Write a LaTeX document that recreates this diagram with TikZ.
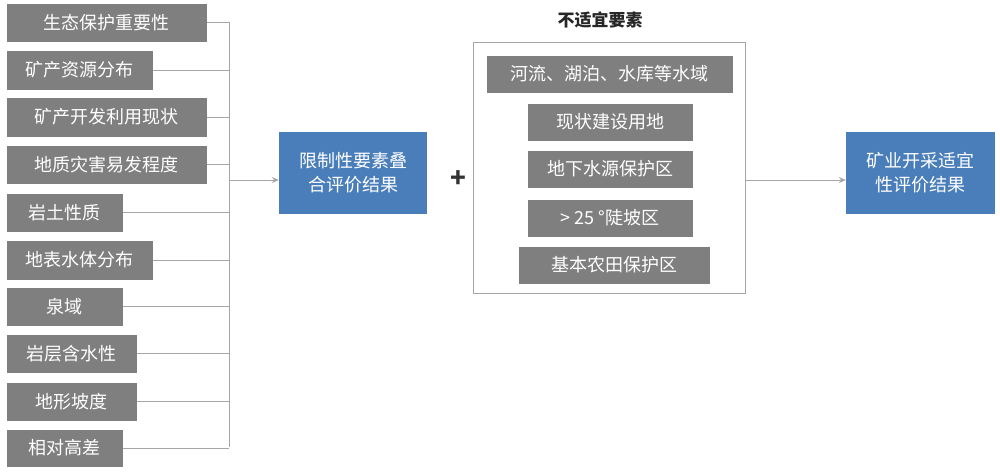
\documentclass[tikz,border=0pt]{standalone}
\usepackage{fontspec}
\setmainfont{Noto Sans CJK SC}
\usetikzlibrary{arrows.meta}
\definecolor{gbox}{HTML}{7F7F7F}
\definecolor{bbox}{HTML}{4A7EBB}
\definecolor{lcol}{HTML}{A6A6A6}
\begin{document}
\begin{tikzpicture}[x=1pt,y=-1pt,
  gb/.style={draw=white,line width=0.8pt,fill=gbox,text=white,font=\fontsize{18}{20}\selectfont,inner sep=0pt},
  bb/.style={fill=bbox,text=white,font=\fontsize{18}{24}\selectfont,align=center,inner sep=0pt},
  ln/.style={draw=lcol,line width=0.8pt},
  ar/.style={ln,-{Stealth[length=7pt,width=6pt]}}]
\useasboundingbox (0,0) rectangle (1000,475);
\newcommand{\gboxat}[6]{\node[gb,minimum width=#3-#2,minimum height=#5-#4] (#1) at ({(#2+#3)/2},{(#4+#5)/2}) {#6};}
\gboxat{l1}{6}{207}{3}{42}{生态保护重要性}
\gboxat{l2}{6}{153}{50}{90}{矿产资源分布}
\gboxat{l3}{6}{207}{97}{137}{矿产开发利用现状}
\gboxat{l4}{6}{207}{145}{184}{地质灾害易发程度}
\gboxat{l5}{6}{123}{193}{232}{岩土性质}
\gboxat{l6}{6}{153}{240}{280}{地表水体分布}
\gboxat{l7}{6}{123}{287}{326}{泉域}
\gboxat{l8}{6}{137}{334}{373}{岩层含水性}
\gboxat{l9}{6}{137}{382}{421}{地形坡度}
\gboxat{l10}{6}{123}{429}{467}{相对高差}
\coordinate (top) at (229,22);
\coordinate (bot) at (229,447);
\coordinate (mid) at (229,180);
\draw[ln] (top) -- (bot);
\foreach \i in {1,...,10} {\draw[ln] (l\i.east) -- (l\i.east -| top);}
\node[bb,minimum width=148,minimum height=82] (lim) at (353,173) {限制性要素叠\\合评价结果};
\draw[ar] (mid) -- (lim.west |- mid);
\node[font=\bfseries\fontsize{26}{26}\selectfont,text=black!80] (plus) at (458,179) {+};
\node[draw=lcol,line width=0.6pt,minimum width=272,minimum height=251,inner sep=0] (grp) at (609,167.5) {};
\node[font=\bfseries\fontsize{17}{20}\selectfont,text=black!85] (ttl) at (600,20) {不适宜要素};
\gboxat{r1}{486}{733}{55}{93}{河流、湖泊、水库等水域}
\gboxat{r2}{527}{693}{103}{141}{现状建设用地}
\gboxat{r3}{527}{693}{150}{188}{地下水源保护区}
\gboxat{r4}{527}{693}{199}{237}{> 25 °陡坡区}
\gboxat{r5}{518}{710}{246}{284}{基本农田保护区}
\node[bb,minimum width=149,minimum height=82] (res) at (920.5,173) {矿业开采适宜\\性评价结果};
\draw[ar] (grp.east |- mid) -- (res.west |- mid);
\end{tikzpicture}
\end{document}
